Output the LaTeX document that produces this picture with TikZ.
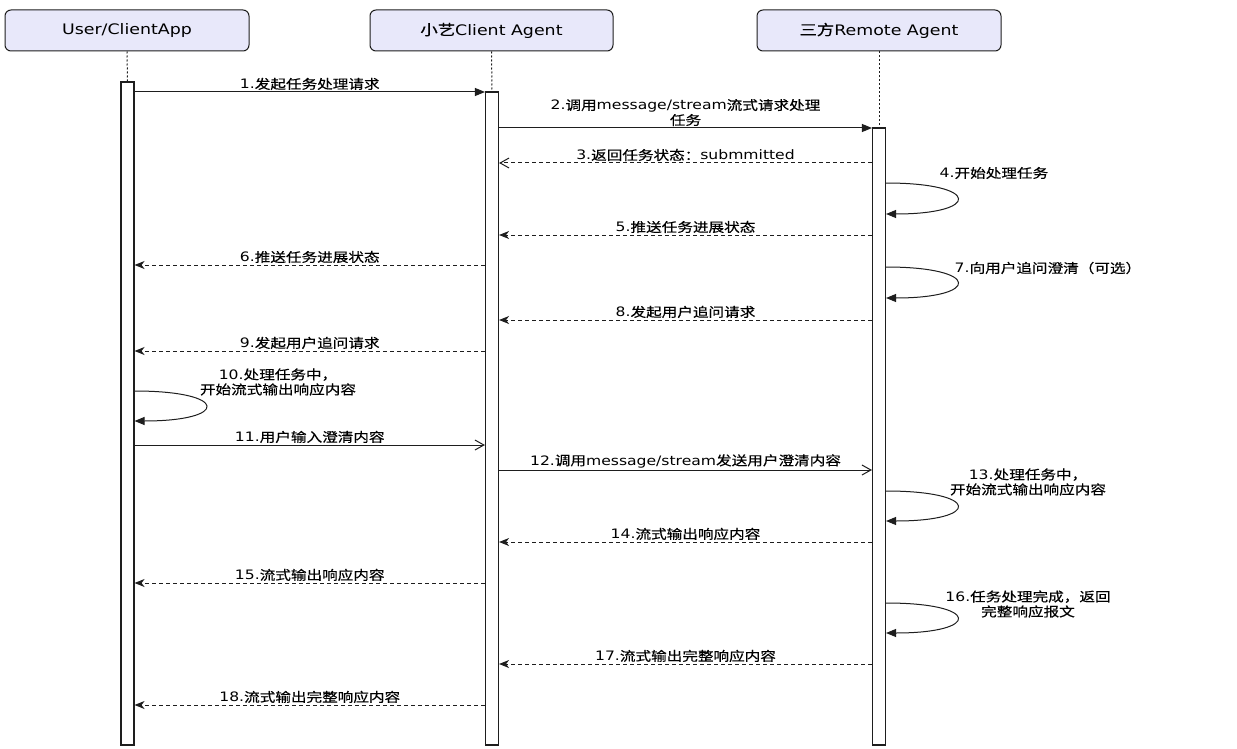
\documentclass[tikz,border=0pt]{standalone}
\usepackage{fontspec}
\setmainfont{DejaVu Sans}[FakeStretch=1.2]
\newfontfamily\cjk{Noto Sans CJK SC}[FakeStretch=1.2,FakeBold=0.4]
\newcommand{\zh}[1]{{\cjk #1}}
\usetikzlibrary{arrows.meta}
\definecolor{lav}{RGB}{232,232,250}
\definecolor{ln}{RGB}{30,30,30}
\begin{document}
\begin{tikzpicture}[x=1pt,y=-1pt,
  actor/.style={draw=ln, fill=lav, rounded corners=6pt, line width=1pt,
    minimum height=41pt, inner sep=0pt, font=\fontsize{14.5}{17}\selectfont},
  actbar/.style={draw=ln, fill=white, line width=1.1pt, minimum width=13pt, inner sep=0pt},
  lifeline/.style={draw=ln, line width=1pt, dash pattern=on 2pt off 2pt},
  call/.style={draw=ln, line width=1pt, -{Triangle[length=10pt,width=8pt]}},
  opencall/.style={draw=ln, line width=1pt, -{Straight Barb[length=9pt,width=10pt]}},
  openret/.style={draw=ln, line width=1pt, dash pattern=on 4pt off 3pt, -{Straight Barb[length=9pt,width=10pt]}},
  ret/.style={draw=ln, line width=1pt, dash pattern=on 4pt off 3pt, -{Stealth[length=10pt,width=8pt,inset=3pt]}},
  selfcall/.style={draw=ln, line width=1pt, -{Triangle[length=10pt,width=8pt]}},
  lbl/.style={font=\fontsize{13}{15}\selectfont, inner sep=1.5pt, align=center},
]
\useasboundingbox (0,0) rectangle (1237,749);
\fill[white] (0,0) rectangle (1237,749);

% actors
\node[actor, minimum width=244pt] (user) at (127,30.5) {User/ClientApp};
\node[actor, minimum width=243pt] (client) at (491.5,30.5) {\zh{小艺}Client Agent};
\node[actor, minimum width=244pt] (remote) at (879,30.5) {\zh{三方}Remote Agent};

% activation bars
\node[actbar, minimum height=663pt] (ubar) at (127.5,413.5) {};
\node[actbar, minimum height=653pt] (cbar) at (492,418.5) {};
\node[actbar, minimum height=617pt] (rbar) at (879,436.5) {};

% lifelines
\draw[lifeline] (user.south) -- (ubar.north);
\draw[lifeline] (client.south) -- (cbar.north);
\draw[lifeline] (remote.south) -- (rbar.north);

% rows
\coordinate (r1) at (0,92);
\coordinate (r2) at (0,128);
\coordinate (r3) at (0,163);
\coordinate (r4a) at (0,183);
\coordinate (r4b) at (0,214);
\coordinate (r5) at (0,235);
\coordinate (r6) at (0,265);
\coordinate (r7a) at (0,267);
\coordinate (r7b) at (0,298);
\coordinate (r8) at (0,320);
\coordinate (r9) at (0,351);
\coordinate (r10a) at (0,391);
\coordinate (r10b) at (0,421);
\coordinate (r11) at (0,445);
\coordinate (r12) at (0,470);
\coordinate (r13a) at (0,491);
\coordinate (r13b) at (0,521);
\coordinate (r14) at (0,542);
\coordinate (r15) at (0,583);
\coordinate (r16a) at (0,603);
\coordinate (r16b) at (0,633);
\coordinate (r17) at (0,664);
\coordinate (r18) at (0,705);

% messages
\draw[call] (ubar.east |- r1) -- (cbar.west |- r1)
  node[midway, above, lbl] {1.\zh{发起任务处理请求}};
\draw[call] (cbar.east |- r2) -- (rbar.west |- r2)
  node[midway, above, lbl] {2.\zh{调用}message/stream\zh{流式请求处理}\\\zh{任务}};
\draw[openret] (rbar.west |- r3) -- (cbar.east |- r3)
  node[midway, above, lbl] {3.\zh{返回任务状态：}submmitted};
\draw[selfcall] (rbar.east |- r4a) .. controls +(95,0) and +(95,0) .. (rbar.east |- r4b);
\node[lbl, anchor=west] (l4) at (938,173) {4.\zh{开始处理任务}};
\draw[ret] (rbar.west |- r5) -- (cbar.east |- r5)
  node[midway, above, lbl] {5.\zh{推送任务进展状态}};
\draw[ret] (cbar.west |- r6) -- (ubar.east |- r6)
  node[midway, above, lbl] {6.\zh{推送任务进展状态}};
\draw[selfcall] (rbar.east |- r7a) .. controls +(95,0) and +(95,0) .. (rbar.east |- r7b);
\node[lbl, anchor=west] (l7) at (953,268) {7.\zh{向用户追问澄清（可选）}};
\draw[ret] (rbar.west |- r8) -- (cbar.east |- r8)
  node[midway, above, lbl] {8.\zh{发起用户追问请求}};
\draw[ret] (cbar.west |- r9) -- (ubar.east |- r9)
  node[midway, above, lbl] {9.\zh{发起用户追问请求}};
\draw[selfcall] (ubar.east |- r10a) .. controls +(95,0) and +(95,0) .. (ubar.east |- r10b);
\node[lbl] (l10) at (278,382) {10.\zh{处理任务中，}\\\zh{开始流式输出响应内容}};
\draw[opencall] (ubar.east |- r11) -- (cbar.west |- r11)
  node[midway, above, lbl] {11.\zh{用户输入澄清内容}};
\draw[opencall] (cbar.east |- r12) -- (rbar.west |- r12)
  node[midway, above, lbl] {12.\zh{调用}message/stream\zh{发送用户澄清内容}};
\draw[selfcall] (rbar.east |- r13a) .. controls +(95,0) and +(95,0) .. (rbar.east |- r13b);
\node[lbl] (l13) at (1028,482) {13.\zh{处理任务中，}\\\zh{开始流式输出响应内容}};
\draw[ret] (rbar.west |- r14) -- (cbar.east |- r14)
  node[midway, above, lbl] {14.\zh{流式输出响应内容}};
\draw[ret] (cbar.west |- r15) -- (ubar.east |- r15)
  node[midway, above, lbl] {15.\zh{流式输出响应内容}};
\draw[selfcall] (rbar.east |- r16a) .. controls +(95,0) and +(95,0) .. (rbar.east |- r16b);
\node[lbl] (l16) at (1028,604) {16.\zh{任务处理完成，返回}\\\zh{完整响应报文}};
\draw[ret] (rbar.west |- r17) -- (cbar.east |- r17)
  node[midway, above, lbl] {17.\zh{流式输出完整响应内容}};
\draw[ret] (cbar.west |- r18) -- (ubar.east |- r18)
  node[midway, above, lbl] {18.\zh{流式输出完整响应内容}};
\end{tikzpicture}
\end{document}
